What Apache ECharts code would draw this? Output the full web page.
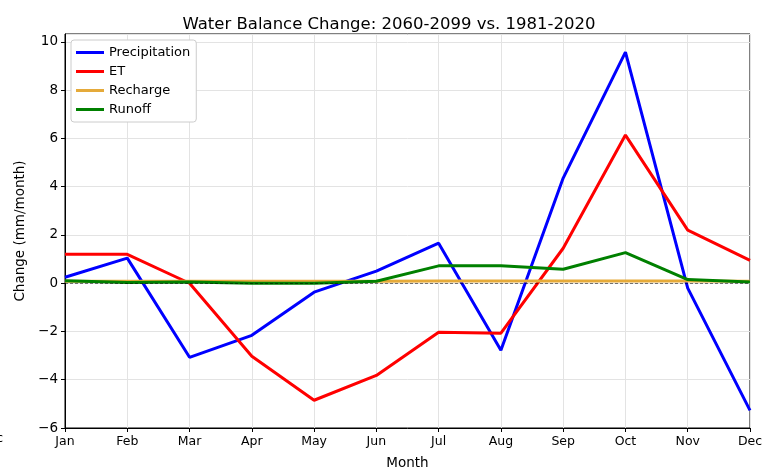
<!DOCTYPE html>
<html>
<head>
<meta charset="utf-8">
<script src="https://cdn.jsdelivr.net/npm/echarts@6/dist/echarts.min.js"></script>
<style>
  html, body { margin: 0; padding: 0; background: #fff; }
  #chart { width: 778px; height: 468px; }
</style>
</head>
<body>
<div id="chart"></div>
<script>
const months = ['Jan', 'Feb', 'Mar', 'Apr', 'May', 'Jun', 'Jul', 'Aug', 'Sep', 'Oct', 'Nov', 'Dec'];
const precipitation = [0.25, 1.04, -3.07, -2.16, -0.37, 0.5, 1.66, -2.78, 4.36, 9.58, -0.2, -5.27];
const et = [1.2, 1.2, 0.0, -3.03, -4.85, -3.82, -2.03, -2.07, 1.45, 6.14, 2.2, 0.95];
const recharge = [0.08, 0.08, 0.08, 0.08, 0.08, 0.08, 0.09, 0.09, 0.09, 0.09, 0.09, 0.08];
const runoff = [0.1, 0.03, 0.05, 0.0, 0.0, 0.08, 0.72, 0.72, 0.58, 1.27, 0.15, 0.05];

const font = 'DejaVu Sans';
const chart = echarts.init(document.getElementById('chart'));

function line(name, data, color) {
  return {
    name: name, type: 'line', data: data, symbol: 'none',
    lineStyle: { color: color, width: 3 }, itemStyle: { color: color }
  };
}

chart.setOption({
  animation: false,
  textStyle: { fontFamily: font },
  title: {
    text: 'Water Balance Change: 2060-2099 vs. 1981-2020',
    left: 'center', top: 11,
    textStyle: { fontFamily: font, fontSize: 16.5, fontWeight: 'normal', color: '#000' }
  },
  legend: {
    left: 71, top: 40, orient: 'vertical',
    itemWidth: 28, itemHeight: 3, itemGap: 6, padding: [6, 6, 6, 5],
    backgroundColor: '#fff', borderColor: '#ccc', borderWidth: 1, borderRadius: 3,
    textStyle: { fontFamily: font, fontSize: 13, color: '#000' },
    data: ['Precipitation', 'ET', 'Recharge', 'Runoff'],
    icon: 'rect'
  },
  grid: {
    left: 65, right: 28, top: 34, bottom: 40,
    outerBoundsMode: 'none',
    show: true, borderColor: '#000', borderWidth: 1
  },
  xAxis: {
    type: 'category', data: months, boundaryGap: false,
    name: 'Month', nameLocation: 'middle', nameGap: 28,
    nameTextStyle: { fontFamily: font, fontSize: 13.5, color: '#000' },
    axisLine: { onZero: false, lineStyle: { color: '#000' } },
    axisTick: { alignWithLabel: true, length: 4, lineStyle: { color: '#000' } },
    axisLabel: { fontFamily: font, fontSize: 12.5, color: '#000', margin: 7 },
    splitLine: { show: true, lineStyle: { color: '#e3e3e3' } }
  },
  yAxis: {
    type: 'value', min: -6, max: 10.33, interval: 2,
    name: 'Change (mm/month)', nameLocation: 'middle', nameGap: 37,
    nameTextStyle: { fontFamily: font, fontSize: 13.5, color: '#000' },
    axisLine: { show: true, lineStyle: { color: '#000' } },
    axisTick: { show: true, length: 4, lineStyle: { color: '#000' } },
    axisLabel: {
      fontFamily: font, fontSize: 13.5, color: '#000', margin: 7, showMaxLabel: false,
      formatter: v => (Math.abs(v - Math.round(v)) > 1e-6 ? '' : String(v).replace('-', '\u2212'))
    },
    splitLine: { show: true, lineStyle: { color: '#e3e3e3' } }
  },
  graphic: [{
    type: 'text', left: -4, top: 432,
    style: { text: 'c', fontFamily: font, fontSize: 13, fill: '#000' }
  }],
  series: [
    {
      name: 'zero', type: 'line', data: [], z: 1,
      markLine: {
        silent: true, symbol: 'none', label: { show: false },
        lineStyle: { color: '#000', type: [3, 2], width: 1, opacity: 0.5 },
        data: [{ yAxis: 0 }]
      }
    },
    line('Precipitation', precipitation, '#0000ff'),
    line('ET', et, '#ff0000'),
    line('Recharge', recharge, '#e5aa3a'),
    line('Runoff', runoff, '#008000')
  ]
});
</script>
</body>
</html>
